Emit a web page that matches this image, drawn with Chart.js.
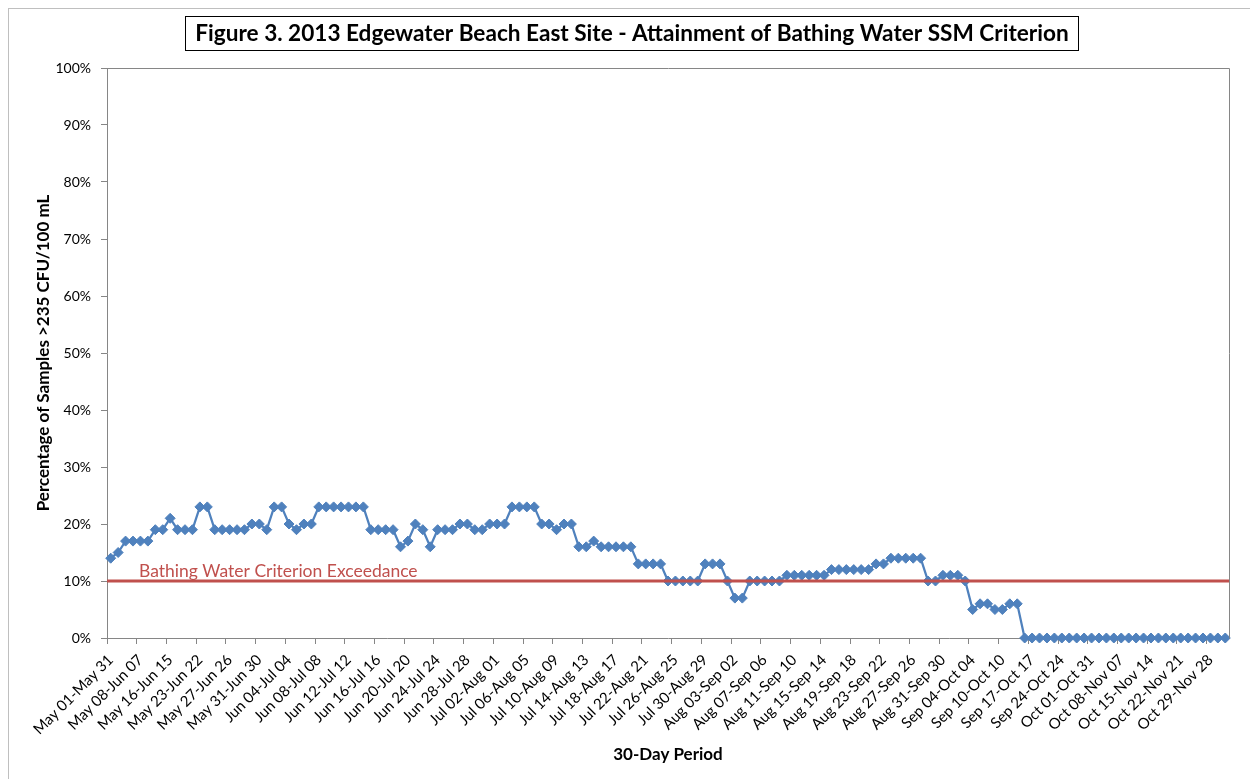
<!DOCTYPE html>
<html><head><meta charset="utf-8">
<script src="https://cdn.jsdelivr.net/npm/chart.js@4.4.0/dist/chart.umd.min.js"></script>
<style>html,body{margin:0;padding:0;background:#fff}#wrap{width:1250px;height:779px;position:relative}</style>
</head><body><div id="wrap"><canvas id="c" width="1250" height="779"></canvas></div>
<script>
const tickLabels = [
  'May 01-May 31','May 08-Jun 07','May 16-Jun 15','May 23-Jun 22','May 27-Jun 26','May 31-Jun 30',
  'Jun 04-Jul 04','Jun 08-Jul 08','Jun 12-Jul 12','Jun 16-Jul 16','Jun 20-Jul 20','Jun 24-Jul 24',
  'Jun 28-Jul 28','Jul 02-Aug 01','Jul 06-Aug 05','Jul 10-Aug 09','Jul 14-Aug 13','Jul 18-Aug 17',
  'Jul 22-Aug 21','Jul 26-Aug 25','Jul 30-Aug 29','Aug 03-Sep 02','Aug 07-Sep 06','Aug 11-Sep 10',
  'Aug 15-Sep 14','Aug 19-Sep 18','Aug 23-Sep 22','Aug 27-Sep 26','Aug 31-Sep 30','Sep 04-Oct 04',
  'Sep 10-Oct 10','Sep 17-Oct 17','Sep 24-Oct 24','Oct 01-Oct 31','Oct 08-Nov 07','Oct 15-Nov 14',
  'Oct 22-Nov 21','Oct 29-Nov 28'
];
const labelEvery = 4;
const percentExceeding = [
  14,15,17,17,17,17,19,19,21,19,19,19,23,23,19,19,19,19,19,20,
  20,19,23,23,20,19,20,20,23,23,23,23,23,23,23,19,19,19,19,16,
  17,20,19,16,19,19,19,20,20,19,19,20,20,20,23,23,23,23,20,20,
  19,20,20,16,16,17,16,16,16,16,16,13,13,13,13,10,10,10,10,10,
  13,13,13,10,7,7,10,10,10,10,10,11,11,11,11,11,11,12,12,12,
  12,12,12,13,13,14,14,14,14,14,10,10,11,11,11,10,5,6,6,5,
  5,6,6,0,0,0,0,0,0,0,0,0,0,0,0,0,0,0,0,0,
  0,0,0,0,0,0,0,0,0,0,0
];
const criterionValue = 10;
const criterionLabel = 'Bathing Water Criterion Exceedance';
const yTicks = [0,10,20,30,40,50,60,70,80,90,100];
const titleText = 'Figure 3. 2013 Edgewater Beach East Site - Attainment of Bathing Water SSM Criterion';
const xTitle = '30-Day Period';
const yTitle = 'Percentage of Samples >235 CFU/100 mL';

const categories = percentExceeding.map((v, i) => (i % labelEvery === 0 ? tickLabels[i / labelEvery] : ''));

const FONT = 'Lato';
const AXIS = '#868686';

const decor = {
  id: 'decor',
  beforeDraw(chart) {
    const ctx = chart.ctx;
    ctx.save();
    ctx.fillStyle = '#fff';
    ctx.fillRect(0, 0, chart.width, chart.height);
    ctx.strokeStyle = '#BFBFBF';
    ctx.lineWidth = 1;
    ctx.strokeRect(8.5, 8.5, 1400, 1400);
    ctx.restore();
  },
  afterDatasetsDraw(chart) {
    const ctx = chart.ctx, a = chart.chartArea, y = chart.scales.y;
    const py = y.getPixelForValue(criterionValue);
    ctx.save();
    ctx.strokeStyle = '#C0504D';
    ctx.lineWidth = 3;
    ctx.beginPath();
    ctx.moveTo(a.left, py);
    ctx.lineTo(a.right, py);
    ctx.stroke();
    ctx.fillStyle = '#C0504D';
    ctx.font = '17.5px ' + FONT;
    ctx.textAlign = 'left';
    ctx.textBaseline = 'alphabetic';
    ctx.fillText(criterionLabel, a.left + 32, py - 4.5);
    ctx.restore();
  },
  afterDraw(chart) {
    const ctx = chart.ctx, a = chart.chartArea;
    ctx.save();
    ctx.strokeStyle = AXIS;
    ctx.lineWidth = 1;
    ctx.beginPath();
    ctx.moveTo(Math.round(a.left) + 0.5, Math.round(a.top) + 0.5);
    ctx.lineTo(Math.round(a.right) + 0.5, Math.round(a.top) + 0.5);
    ctx.lineTo(Math.round(a.right) + 0.5, Math.round(a.bottom) + 0.5);
    ctx.stroke();
    ctx.fillStyle = '#000';
    ctx.font = 'bold 22.6px ' + FONT;
    ctx.textAlign = 'center';
    ctx.textBaseline = 'middle';
    ctx.fillText(titleText, 632, 34);
    ctx.strokeStyle = '#000';
    ctx.strokeRect(185.5, 16.5, 893, 34);
    ctx.font = 'bold 17px ' + FONT;
    ctx.fillText(xTitle, (a.left + a.right) / 2, 755);
    ctx.translate(44, (a.top + a.bottom) / 2);
    ctx.rotate(-Math.PI / 2);
    ctx.fillText(yTitle, 0, 0);
    ctx.restore();
  }
};

new Chart(document.getElementById('c'), {
  type: 'line',
  data: {
    labels: categories,
    datasets: [{
      label: '% Samples >235 CFU/100 mL',
      data: percentExceeding,
      borderColor: '#4F81BD',
      backgroundColor: '#4F81BD',
      borderWidth: 2.25,
      pointStyle: 'rectRot',
      pointRadius: 5,
      pointBackgroundColor: '#4F81BD',
      pointBorderColor: '#4F81BD',
      pointBorderWidth: 1,
      tension: 0,
      clip: false
    }]
  },
  options: {
    responsive: false,
    animation: false,
    devicePixelRatio: 1,
    layout: { padding: { top: 68, right: 21, left: 0, bottom: 0 } },
    plugins: { legend: { display: false }, title: { display: false }, tooltip: { enabled: false } },
    scales: {
      x: {
        type: 'category',
        offset: true,
        grid: {
          offset: true, drawOnChartArea: false, drawTicks: true, tickLength: 6,
          color: c => (c.index % labelEvery === 0 ? AXIS : 'rgba(0,0,0,0)')
        },
        border: { color: AXIS, width: 1 },
        ticks: { autoSkip: false, maxRotation: 45, minRotation: 45, padding: 7, color: '#000', font: { family: FONT, size: 15 } },
        afterFit: s => { s.height = 141; }
      },
      y: {
        min: 0, max: 100,
        afterBuildTicks: s => { s.ticks = yTicks.map(v => ({ value: v })); },
        ticks: { callback: v => v + '%', padding: 10, color: '#000', font: { family: FONT, size: 14 } },
        grid: { drawOnChartArea: false, drawTicks: true, tickLength: 6, color: AXIS },
        border: { color: AXIS, width: 1 },
        afterFit: s => { s.width = 107; }
      }
    }
  },
  plugins: [decor]
});
</script>
</body></html>
